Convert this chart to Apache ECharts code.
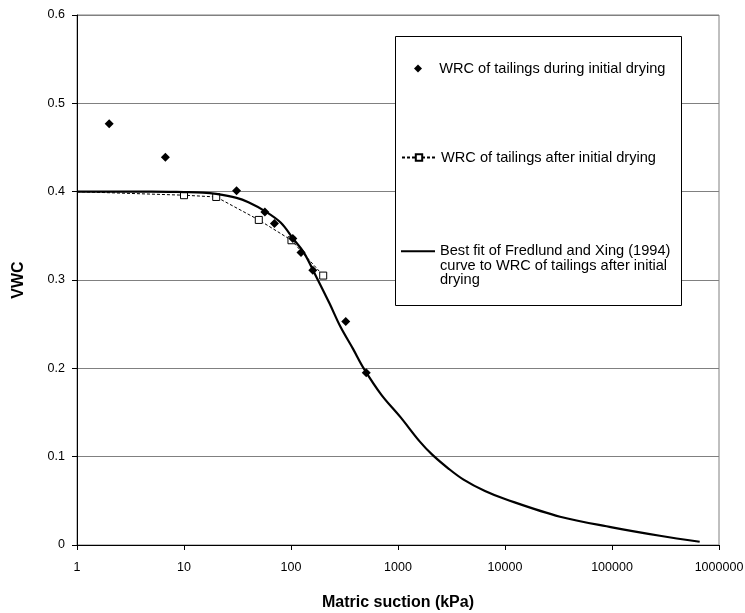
<!DOCTYPE html>
<html><head><meta charset="utf-8">
<script src="https://cdn.jsdelivr.net/npm/echarts/dist/echarts.min.js"></script>
<style>html,body{margin:0;padding:0;background:#fff}#c{width:745px;height:613px}</style>
</head><body><div id="c"></div>
<script>
// Data
const duringX = [2, 6.7, 31, 57, 70, 104, 124, 160, 325, 505];
const duringY = [0.477, 0.439, 0.401, 0.377, 0.364, 0.347, 0.331, 0.311, 0.253, 0.195];

const afterX = [1, 10, 20, 50, 101, 200];
const afterY = [0.400, 0.396, 0.394, 0.368, 0.345, 0.305];

const fitX = [1, 5, 10, 15, 20, 31, 40, 57, 80, 106, 132, 175, 230, 290, 380, 478, 700, 1050, 1600, 2100, 3000, 4100, 6500, 10000, 32700, 100000, 280000, 660000];
const fitY = [0.400, 0.400, 0.3995, 0.399, 0.3975, 0.393, 0.388, 0.378, 0.365, 0.346, 0.331, 0.302, 0.273, 0.247, 0.222, 0.200, 0.170, 0.145, 0.117, 0.102, 0.086, 0.074, 0.061, 0.052, 0.032, 0.020, 0.0105, 0.0037];

const seriesNames = [
  'WRC of tailings during initial drying',
  'WRC of tailings after initial drying',
  'Best fit of Fredlund and Xing (1994)\ncurve to WRC of tailings after initial\ndrying'
];
const xName = 'Matric suction (kPa)';
const yName = 'VWC';

const FONT = '"Liberation Sans", Arial, sans-serif';

const zip = (xs, ys) => xs.map((x, i) => [x, ys[i]]);
const afterData = zip(afterX, afterY).map((p, i) => i === 0 ? {value: p, symbol: 'none'} : p);

const chart = echarts.init(document.getElementById('c'), null, {renderer: 'canvas'});

const LH = 14.5;
const legendBase = {
  orient: 'vertical', padding: 0, itemWidth: 34, itemHeight: 8, selectedMode: false,
  textStyle: {fontFamily: FONT, fontSize: 14.6, color: '#000', lineHeight: LH},
  z: 10
};

chart.setOption({
  animation: false,
  backgroundColor: '#fff',
  textStyle: {fontFamily: FONT},
  grid: {left: 77, right: 26, top: 15, bottom: 68, show: true, borderColor: '#808080', borderWidth: 1,
    containLabel: false, outerBoundsMode: 'none'},
  graphic: [{
    type: 'rect', left: 395, top: 36, z: 8,
    shape: {width: 286, height: 269},
    style: {fill: '#fff', stroke: '#000', lineWidth: 1}
  }],
  legend: [
    Object.assign({}, legendBase, {left: 414, top: 61, itemWidth: 8, itemHeight: 8,
      formatter: n => '   ' + n,
      data: [{name: seriesNames[0], icon: 'diamond'}]}),
    Object.assign({}, legendBase, {left: 401, top: 150, data: [seriesNames[1]]}),
    Object.assign({}, legendBase, {left: 401, top: 251 - 2.5 * LH, itemHeight: 2,
      formatter: n => '\n\n' + n,
      data: [{name: seriesNames[2], icon: 'rect'}]})
  ],
  xAxis: {
    type: 'log', logBase: 10, min: 1, max: 1000000,
    axisLine: {lineStyle: {color: '#000', width: 1}},
    axisTick: {show: true, length: 5, lineStyle: {color: '#000'}},
    minorTick: {show: false},
    splitLine: {show: false},
    axisLabel: {color: '#000', fontSize: 12.5, fontFamily: FONT, margin: 16,
      formatter: v => String(Math.round(v))},
    name: xName, nameLocation: 'middle', nameGap: 50,
    nameTextStyle: {fontFamily: FONT, fontSize: 16, fontWeight: 'bold', color: '#000'}
  },
  yAxis: {
    type: 'value', min: 0, max: 0.6, interval: 0.1,
    axisLine: {show: true, lineStyle: {color: '#000', width: 1}},
    axisTick: {show: true, length: 5, lineStyle: {color: '#000'}},
    splitLine: {show: true, lineStyle: {color: '#808080', width: 1}},
    axisLabel: {color: '#000', fontSize: 12.5, fontFamily: FONT, margin: 12,
      formatter: v => String(+v.toFixed(1))},
    name: yName, nameLocation: 'middle', nameRotate: 90, nameGap: 50,
    nameTextStyle: {fontFamily: FONT, fontSize: 16, fontWeight: 'bold', color: '#000'}
  },
  series: [
    {
      name: seriesNames[0], type: 'scatter', symbol: 'diamond', symbolSize: 9,
      itemStyle: {color: '#000', opacity: 1}, z: 5,
      data: zip(duringX, duringY)
    },
    {
      name: seriesNames[1], type: 'line', symbol: 'rect', symbolSize: 7, showAllSymbol: true,
      itemStyle: {color: '#fff', borderColor: '#000', borderWidth: 1},
      lineStyle: {color: '#000', width: 1, type: [3, 2]}, z: 3,
      data: afterData
    },
    {
      name: seriesNames[2], type: 'line', symbol: 'none', smooth: 0.35,
      lineStyle: {color: '#000', width: 2.2}, itemStyle: {color: '#000'}, z: 4,
      data: zip(fitX, fitY)
    }
  ]
});
</script>
</body></html>
